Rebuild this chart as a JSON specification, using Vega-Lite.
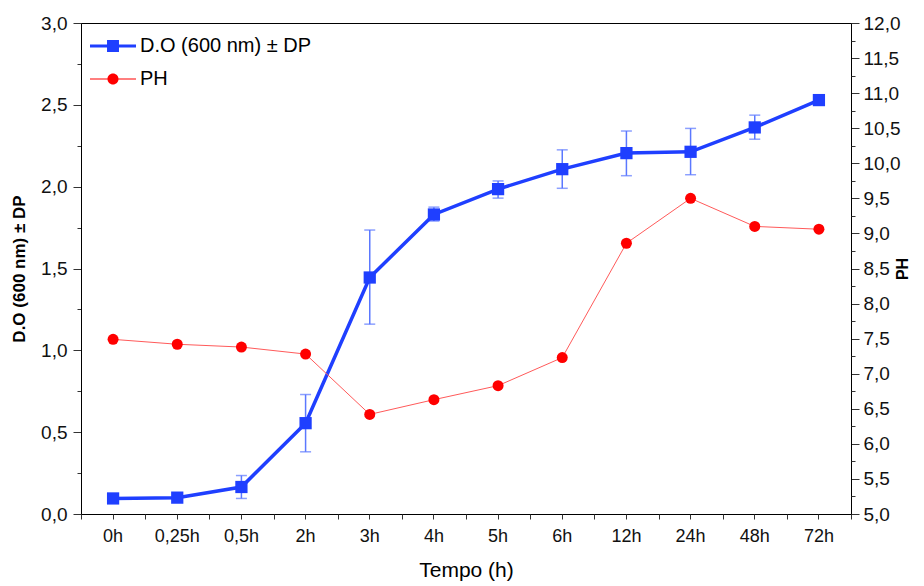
{
  "$schema": "https://vega.github.io/schema/vega-lite/v6.json",
  "width": 770,
  "height": 491,
  "autosize": {"type": "none"},
  "padding": {"left": 81, "top": 23, "right": 73, "bottom": 72},
  "config": {
    "font": "Liberation Sans",
    "view": {"stroke": "#000", "strokeWidth": 1},
    "axis": {"grid": false, "domainColor": "#000", "tickColor": "#333", "labelColor": "#111", "labelFont": "Liberation Sans", "labelFontSize": 19, "titleFont": "Liberation Sans", "titleColor": "#000"}
  },
  "data": {"values": [
    {"t": "0h", "do": 0.095, "lo": null, "hi": null, "ph": 7.49},
    {"t": "0,25h", "do": 0.10, "lo": null, "hi": null, "ph": 7.42},
    {"t": "0,5h", "do": 0.165, "lo": 0.095, "hi": 0.235, "ph": 7.38},
    {"t": "2h", "do": 0.555, "lo": 0.38, "hi": 0.73, "ph": 7.28},
    {"t": "3h", "do": 1.445, "lo": 1.16, "hi": 1.735, "ph": 6.42},
    {"t": "4h", "do": 1.83, "lo": 1.79, "hi": 1.875, "ph": 6.63},
    {"t": "5h", "do": 1.985, "lo": 1.93, "hi": 2.035, "ph": 6.83},
    {"t": "6h", "do": 2.107, "lo": 1.99, "hi": 2.225, "ph": 7.23},
    {"t": "12h", "do": 2.205, "lo": 2.067, "hi": 2.34, "ph": 8.86},
    {"t": "24h", "do": 2.213, "lo": 2.073, "hi": 2.356, "ph": 9.50},
    {"t": "48h", "do": 2.362, "lo": 2.29, "hi": 2.437, "ph": 9.10},
    {"t": "72h", "do": 2.529, "lo": null, "hi": null, "ph": 9.06}
  ]},
  "layer": [
    {
      "mark": {"type": "rule", "color": "#5b78ff", "strokeWidth": 1.5},
      "encoding": {
        "x": {"field": "t", "type": "nominal", "sort": null, "scale": {"type": "band", "paddingInner": 0, "paddingOuter": 0, "domain": ["0h","0,25h","0,5h","2h","3h","4h","5h","6h","12h","24h","48h","72h"]},
              "axis": {"orient": "bottom", "tickBand": "extent", "labels": false, "tickSize": 5, "domain": false, "title": null, "grid": false}},
        "y": {"field": "lo", "type": "quantitative", "scale": {"domain": [0, 3], "nice": false, "zero": false},
              "axis": {"orient": "left", "values": [0.25, 0.75, 1.25, 1.75, 2.25, 2.75], "labels": false, "tickSize": 4, "domain": false, "title": null, "grid": false}},
        "y2": {"field": "hi"}
      }
    },
    {
      "mark": {"type": "tick", "color": "#5b78ff", "size": 11, "thickness": 1.5},
      "encoding": {
        "x": {"field": "t", "type": "nominal", "sort": null, "scale": {"type": "band", "paddingInner": 0, "paddingOuter": 0, "domain": ["0h","0,25h","0,5h","2h","3h","4h","5h","6h","12h","24h","48h","72h"]}, "axis": null},
        "y": {"field": "lo", "type": "quantitative", "scale": {"domain": [0, 3], "nice": false, "zero": false}, "axis": null}
      }
    },
    {
      "mark": {"type": "tick", "color": "#5b78ff", "size": 11, "thickness": 1.5},
      "encoding": {
        "x": {"field": "t", "type": "nominal", "sort": null, "scale": {"type": "band", "paddingInner": 0, "paddingOuter": 0, "domain": ["0h","0,25h","0,5h","2h","3h","4h","5h","6h","12h","24h","48h","72h"]}, "axis": null},
        "y": {"field": "hi", "type": "quantitative", "scale": {"domain": [0, 3], "nice": false, "zero": false}, "axis": null}
      }
    },
    {
      "mark": {"type": "line", "color": "#1f3fff", "strokeWidth": 3.5},
      "encoding": {
        "x": {"field": "t", "type": "nominal", "sort": null, "scale": {"type": "band", "paddingInner": 0, "paddingOuter": 0, "domain": ["0h","0,25h","0,5h","2h","3h","4h","5h","6h","12h","24h","48h","72h"]},
              "axis": {"orient": "bottom", "title": "Tempo (h)", "titleFontSize": 21, "titleFontWeight": "normal", "labelAngle": 0, "labelFontSize": 18, "tickSize": 5, "labelPadding": 8, "titlePadding": 14, "domain": false}},
        "y": {"field": "do", "type": "quantitative", "scale": {"domain": [0, 3], "nice": false, "zero": false},
              "axis": {"orient": "left", "values": [0, 0.5, 1, 1.5, 2, 2.5, 3], "labelExpr": "replace(format(datum.value, '.1f'), '.', ',')", "tickSize": 8, "labelPadding": 6, "title": "D.O (600 nm) ± DP", "titleFontWeight": "bold", "titleFontSize": 17, "titlePadding": 12}}
      }
    },
    {
      "mark": {"type": "point", "shape": "square", "filled": true, "size": 150, "color": "#1f3fff", "opacity": 1},
      "encoding": {
        "x": {"field": "t", "type": "nominal", "sort": null, "scale": {"type": "band", "paddingInner": 0, "paddingOuter": 0, "domain": ["0h","0,25h","0,5h","2h","3h","4h","5h","6h","12h","24h","48h","72h"]}, "axis": null},
        "y": {"field": "do", "type": "quantitative", "scale": {"domain": [0, 3], "nice": false, "zero": false}, "axis": null}
      }
    },
    {
      "mark": {"type": "line", "color": "#ff5a5a", "strokeWidth": 1},
      "encoding": {
        "x": {"field": "t", "type": "nominal", "sort": null, "scale": {"type": "band", "paddingInner": 0, "paddingOuter": 0, "domain": ["0h","0,25h","0,5h","2h","3h","4h","5h","6h","12h","24h","48h","72h"]}, "axis": null},
        "y": {"field": "ph", "type": "quantitative", "scale": {"domain": [5, 12], "nice": false, "zero": false},
              "axis": {"orient": "right", "values": [5, 5.5, 6, 6.5, 7, 7.5, 8, 8.5, 9, 9.5, 10, 10.5, 11, 11.5, 12], "labelExpr": "replace(format(datum.value, '.1f'), '.', ',')", "tickSize": 8, "labelPadding": 4, "title": "PH", "titleFontWeight": "bold", "titleFontSize": 16, "titleAngle": 270, "titlePadding": 11}}
      }
    },
    {
      "mark": {"type": "point", "shape": "circle", "filled": true, "size": 121, "color": "#ff0000", "opacity": 1},
      "encoding": {
        "x": {"field": "t", "type": "nominal", "sort": null, "scale": {"type": "band", "paddingInner": 0, "paddingOuter": 0, "domain": ["0h","0,25h","0,5h","2h","3h","4h","5h","6h","12h","24h","48h","72h"]}, "axis": null},
        "y": {"field": "ph", "type": "quantitative", "scale": {"domain": [5, 12], "nice": false, "zero": false},
              "axis": {"orient": "right", "values": [5.25, 5.75, 6.25, 6.75, 7.25, 7.75, 8.25, 8.75, 9.25, 9.75, 10.25, 10.75, 11.25, 11.75], "labels": false, "tickSize": 4, "domain": false, "title": null, "grid": false}}
      }
    },
    {
      "data": {"values": []},
      "mark": {"type": "point", "filled": true, "opacity": 1},
      "encoding": {
        "color": {"field": "s", "type": "nominal", "scale": {"domain": ["D.O (600 nm) ± DP", "PH"], "range": ["#1f3fff", "#ff0000"]},
                  "legend": {"orient": "none", "legendX": 9, "legendY": 0, "title": null, "labelFontSize": 20, "labelFont": "Liberation Sans", "labelColor": "#000", "labelLimit": 400, "symbolStrokeWidth": 0, "symbolSize": 2116, "rowPadding": -17, "labelOffset": 4}},
        "shape": {"field": "s", "type": "nominal", "scale": {"domain": ["D.O (600 nm) ± DP", "PH"], "range": ["M-1,-0.07H1V0.07H-1Z M-0.26,-0.26H0.26V0.26H-0.26Z", "M-1,-0.025H1V0.025H-1Z M0.24,0A0.24,0.24 0 1,1 -0.24,0A0.24,0.24 0 1,1 0.24,0Z"]}}
      }
    }
  ],
  "resolve": {"scale": {"y": "independent"}, "axis": {"x": "independent"}}
}
